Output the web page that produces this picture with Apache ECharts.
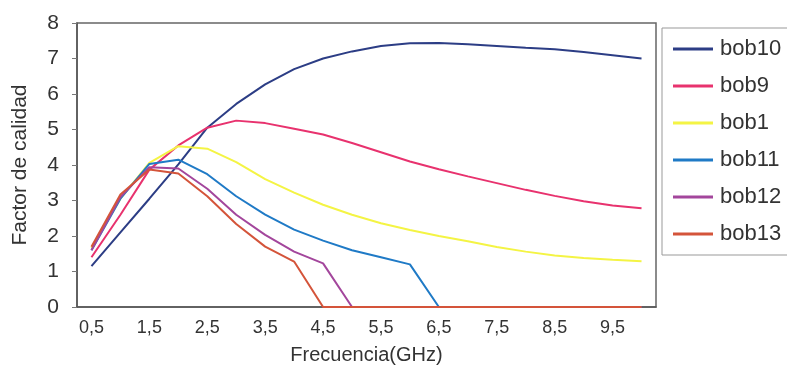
<!DOCTYPE html>
<html>
<head>
<meta charset="utf-8">
<script src="https://cdn.jsdelivr.net/npm/echarts@6/dist/echarts.min.js"></script>
<style>
  html, body { margin: 0; padding: 0; background: #fff; }
  #chart { width: 787px; height: 372px; }
</style>
</head>
<body>
<div id="chart"></div>
<script>
// frecuencia (GHz)
var freq = ['0.5', '1', '1.5', '2', '2.5', '3', '3.5', '4', '4.5', '5',
            '5.5', '6', '6.5', '7', '7.5', '8', '8.5', '9', '9.5', '10'];

var bob10 = [1.15, 2.1, 3.05, 4.02, 5.05, 5.72, 6.27, 6.7, 7.0, 7.2,
             7.35, 7.43, 7.44, 7.4, 7.35, 7.3, 7.26, 7.18, 7.09, 7.0];
var bob9  = [1.4, 2.6, 3.87, 4.55, 5.05, 5.25, 5.18, 5.02, 4.86, 4.62,
             4.36, 4.1, 3.88, 3.68, 3.49, 3.3, 3.13, 2.98, 2.86, 2.78];
var bob1  = [1.66, 3.05, 4.06, 4.53, 4.46, 4.08, 3.6, 3.22, 2.88, 2.6,
             2.36, 2.17, 2.0, 1.85, 1.69, 1.56, 1.45, 1.38, 1.33, 1.29];
var bob11 = [1.6, 3.05, 4.03, 4.15, 3.74, 3.12, 2.6, 2.18, 1.87, 1.6,
             1.4, 1.2, 0, 0, 0, 0, 0, 0, 0, 0];
var bob12 = [1.6, 3.1, 3.94, 3.9, 3.33, 2.6, 2.03, 1.56, 1.23, 0,
             0, 0, 0, 0, 0, 0, 0, 0, 0, 0];
var bob13 = [1.7, 3.17, 3.87, 3.76, 3.12, 2.34, 1.7, 1.28, 0, 0,
             0, 0, 0, 0, 0, 0, 0, 0, 0, 0];

var names  = ['bob10', 'bob9', 'bob1', 'bob11', 'bob12', 'bob13'];
var values = [bob10, bob9, bob1, bob11, bob12, bob13];
var colors = ['#2c3d85', '#e8326e', '#f4f444', '#1f7ac6', '#a3469c', '#d4543a'];

var txt = '#333';
var font = 'Liberation Sans, Arial, sans-serif';

var chart = echarts.init(document.getElementById('chart'));

var series = [];
for (var i = 0; i < names.length; i++) {
  series.push({
    name: names[i],
    type: 'line',
    data: values[i],
    symbol: 'none',
    z: 2 + i,   // bob13 on top, as in the scan
    lineStyle: { width: 2, color: colors[i] },
    itemStyle: { color: colors[i] }
  });
}

var option = {
  backgroundColor: '#fff',
  animation: false,
  color: colors,
  grid: {
    left: 77, right: 131, top: 23, bottom: 65,
    show: true,
    borderColor: '#666',
    borderWidth: 1.5
  },
  legend: {
    orient: 'vertical',
    left: 662,
    top: 28,
    padding: [10, 30, 10, 11],
    itemGap: 15,
    itemWidth: 40,
    itemHeight: 3,
    icon: 'rect',
    borderColor: '#999',
    borderWidth: 1,
    textStyle: { fontFamily: font, fontSize: 22, color: txt, padding: [0, 0, 0, 2] },
    data: names
  },
  xAxis: {
    type: 'category',
    data: freq,
    boundaryGap: true,
    name: 'Frecuencia(GHz)',
    nameLocation: 'middle',
    nameGap: 38,
    nameTextStyle: { fontFamily: font, fontSize: 20, color: txt },
    axisLine: { lineStyle: { color: '#555', width: 1.5 } },
    axisTick: { inside: true, length: 5, interval: 0, lineStyle: { color: '#777' } },
    axisLabel: {
      interval: 1,
      fontFamily: font, fontSize: 18, color: txt, margin: 12,
      formatter: function (v) { return v.replace('.', ','); }
    },
    splitLine: { show: false }
  },
  yAxis: {
    type: 'value',
    min: 0, max: 8, interval: 1,
    name: 'Factor de calidad',
    nameLocation: 'middle',
    nameGap: 46,
    nameTextStyle: { fontFamily: font, fontSize: 21, color: txt },
    axisLine: { show: true, lineStyle: { color: '#555', width: 1.5 } },
    axisTick: { show: true, length: 5, lineStyle: { color: '#777' } },
    axisLabel: { fontFamily: font, fontSize: 21, color: txt, margin: 18 },
    splitLine: { show: false }
  },
  series: series
};

chart.setOption(option);
</script>
</body>
</html>
